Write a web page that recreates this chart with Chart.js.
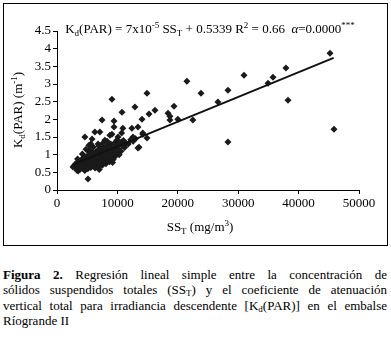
<!DOCTYPE html>
<html><head><meta charset="utf-8">
<script src="https://cdn.jsdelivr.net/npm/chart.js@4"></script>
<style>
html,body{margin:0;padding:0;background:#fff;}
body{width:391px;height:338px;position:relative;overflow:hidden;font-family:'Liberation Serif','Times New Roman',serif;color:#000;}
#box{position:absolute;left:3px;top:3px;width:385px;height:243px;border:1px solid #000;box-sizing:border-box;}
#box canvas{display:block;}
#cap{position:absolute;left:3px;top:267px;width:384px;font-size:13px;line-height:15.3px;}
#cap .j{text-align:justify;text-align-last:justify;}
#cap sub{font-size:9px;vertical-align:-2px;line-height:0;}
</style></head>
<body>
<div id="box"><canvas id="c" width="383" height="241"></canvas></div>
<div id="cap">
<div class="j"><b>Figura 2.</b> Regresión lineal simple entre la concentración de</div>
<div class="j">sólidos suspendidos totales (SS<sub>T</sub>) y el coeficiente de atenuación</div>
<div class="j">vertical total para irradiancia descendente [K<sub>d</sub>(PAR)] en el embalse</div>
<div>Ríogrande II</div>
</div>
<script>
// Data
const ssT = [
 9100,7450,9440,10760,12900,14070,14900,15230,16220,18380,18700,19370,20000,18700,21500,22500,23840,26650,28300,30960,34930,35760,37900,38250,45200,45860,28300,
 6270,7100,4620,9440,10900,12400,13400,10700,8750,14200,14900,5600,7920,9900,10700,13400,5800,5300,6950,10100,12580,14200,13580,9100,
 5130,3500,3300,2650,
 2800,3000,3200,3300,3500,3600,3700,3800,3900,4000,4100,4200,4300,4400,4500,4600,4700,4800,4900,5000,
 5100,5200,5300,5400,5500,5600,5700,5800,5900,6000,6100,6200,6300,6400,6500,6600,6700,6800,6900,7000,
 7100,7200,7300,7400,7500,7600,7700,7800,7900,8000,8100,8200,8300,8400,8500,8600,8700,8800,8900,9000,
 9100,9200,9300,9400,9500,9600,9700,9800,9900,10000,10200,10400,10600,10800,11000,11200,11400,
 3400,4500,5500,6500,7500,8500,11800,12200,12600,13000,
 4200,5200,6000,6800,7600,8300,9200,10300,4800,7000
];
const kdPAR = [
 2.57,1.98,1.95,2.20,2.35,2.00,2.74,2.15,2.26,2.17,2.09,2.37,2.00,1.98,3.08,1.98,2.74,2.49,2.82,3.25,3.02,3.19,3.45,2.54,3.87,1.72,1.36,
 1.64,1.64,1.50,1.78,1.75,1.75,1.78,1.61,1.55,1.61,1.47,1.30,1.41,1.41,1.36,1.19,1.44,1.27,1.24,1.50,1.50,1.58,1.21,1.58,
 0.31,0.54,0.56,0.65,
 0.68,0.72,0.62,0.78,0.70,0.66,0.80,0.58,0.74,0.85,0.68,0.62,0.78,0.90,0.72,0.55,0.82,0.66,0.95,0.75,
 0.60,0.88,0.70,1.00,0.80,0.64,0.92,0.76,1.05,0.86,0.70,0.98,0.62,0.82,1.10,0.90,0.74,1.02,0.66,0.88,
 1.15,0.96,0.78,1.06,0.70,0.92,1.20,1.00,0.84,1.10,0.74,0.96,1.25,1.04,0.88,1.14,0.80,1.00,1.30,1.08,
 0.92,1.18,0.86,1.02,1.32,1.12,0.96,1.22,1.06,1.28,1.16,1.35,1.10,1.26,1.40,1.20,1.32,
 0.88,0.95,1.12,0.98,1.14,1.20,1.30,1.42,1.38,1.45,
 1.02,1.10,1.22,1.30,1.32,1.38,0.78,1.00,1.15,0.58
];
const trendX = [2650, 45800];
const trendY = [0.72, 3.74];
const xTickLabels = ['0','10000','20000','30000','40000','50000'];
const yTickLabels = ['0','0.5','1','1.5','2','2.5','3','3.5','4','4.5'];

const FONT = "'Liberation Serif','Times New Roman',serif";

function drawRich(ctx, parts, x, y, size, align, rot) {
  ctx.save();
  ctx.translate(x, y);
  if (rot) ctx.rotate(rot);
  ctx.fillStyle = '#000';
  ctx.textBaseline = 'middle';
  ctx.textAlign = 'left';
  const small = Math.round(size * 0.68);
  const fontOf = p => (p.it ? 'italic ' : '') + ((p.sub || p.sup) ? small : size) + 'px ' + FONT;
  let total = 0;
  parts.forEach(p => { ctx.font = fontOf(p); total += ctx.measureText(p.t).width; });
  let cx = align === 'center' ? -total / 2 : 0;
  parts.forEach(p => {
    ctx.font = fontOf(p);
    const dy = p.sub ? size * 0.3 : (p.sup ? -size * 0.35 : 0);
    ctx.fillText(p.t, cx, dy);
    cx += ctx.measureText(p.t).width;
  });
  ctx.restore();
}

const richText = {
  id: 'richText',
  afterDraw(chart) {
    const ctx = chart.ctx;
    drawRich(ctx, [
      {t:'K'},{t:'d',sub:1},{t:'(PAR) = 7x10'},{t:'-5',sup:1},{t:' SS'},{t:'T',sub:1},
      {t:' + 0.5339 R'},{t:'2',sup:1},{t:' = 0.66  '},{t:'α',it:1},{t:'=0.0000'},{t:'***',sup:1}
    ], 206, 26, 13, 'center', 0);
    drawRich(ctx, [{t:'SS'},{t:'T',sub:1},{t:' (mg/m'},{t:'3',sup:1},{t:')'}], 196, 224, 13, 'center', 0);
    drawRich(ctx, [{t:'K'},{t:'d',sub:1},{t:'(PAR) (m'},{t:'-1',sup:1},{t:')'}], 15, 106, 13, 'center', -Math.PI/2);
  }
};

const pts = ssT.map((x, i) => ({x: x, y: kdPAR[i]}));
const line = trendX.map((x, i) => ({x: x, y: trendY[i]}));

new Chart(document.getElementById('c'), {
  type: 'scatter',
  data: {
    datasets: [
      {data: pts, pointStyle: 'rectRot', pointRadius: 3.5, backgroundColor: '#1a1a1a', borderWidth: 0, order: 2},
      {type: 'line', data: line, showLine: true, borderColor: '#111', borderWidth: 2, pointRadius: 0, fill: false, order: 1}
    ]
  },
  options: {
    responsive: false,
    animation: false,
    devicePixelRatio: 1,
    layout: {padding: {top: 27, right: 28, left: 0, bottom: 0}},
    plugins: {legend: {display: false}, tooltip: {enabled: false}},
    scales: {
      x: {
        type: 'linear', min: 0, max: 50000,
        afterFit: s => { s.height = 55; },
        ticks: {stepSize: 10000, autoSkip: false, color: '#000', padding: 2, font: {family: FONT, size: 13}, maxRotation: 0,
          callback: (v, i) => xTickLabels[i]},
        grid: {drawOnChartArea: false, drawTicks: true, tickLength: 4, tickColor: '#000'},
        border: {display: true, color: '#000', width: 1}
      },
      y: {
        type: 'linear', min: 0, max: 4.5,
        afterFit: s => { s.width = 53; },
        ticks: {stepSize: 0.5, autoSkip: false, color: '#000', padding: 2, font: {family: FONT, size: 13},
          callback: (v, i) => yTickLabels[i]},
        grid: {drawOnChartArea: false, drawTicks: true, tickLength: 4, tickColor: '#000'},
        border: {display: true, color: '#000', width: 1}
      }
    }
  },
  plugins: [richText]
});
</script>
</body></html>
